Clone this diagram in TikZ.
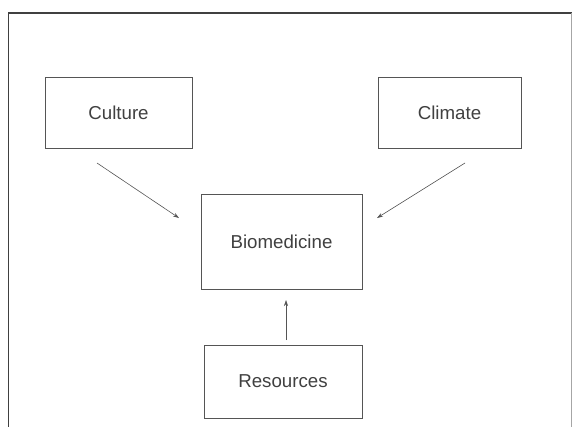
\documentclass[tikz,border=0pt]{standalone}
\usepackage{fontspec}
\setmainfont{Liberation Sans}
\usetikzlibrary{arrows,arrows.meta,positioning}
\definecolor{inkgrey}{HTML}{404040}
\definecolor{linegrey}{HTML}{555555}
\tikzset{factor/.style={rectangle,draw=linegrey,line width=0.6pt,text=inkgrey,
  font=\fontsize{18.7}{22}\selectfont,inner sep=0pt}}
\tikzset{link/.style={-{Stealth[length=6pt,width=4pt]},draw=linegrey,line width=0.6pt}}

\begin{document}
\begin{tikzpicture}[x=1pt,y=-1pt]
% \draw[help lines] (0,0) grid (573,426);
\useasboundingbox (0,0) rectangle (573,426);
\clip (0,0) rectangle (573,426);
\draw[draw=black!75,line width=1.8pt] (8.5,440) -- (8.5,13) -- (571.5,13);
\draw[draw=black!35,line width=0.6pt] (571.5,13) -- (571.5,440);
%
\node (culture) [factor,minimum width=147pt,minimum height=71pt] at (118.5,113) {Culture};
\node (climate) [factor,minimum width=143pt,minimum height=71pt] at (449.5,113) {Climate};
\node (bio) [factor,minimum width=161pt,minimum height=95pt] at (281.5,241.5) {Biomedicine};
\node (res) [factor,minimum width=158pt,minimum height=73pt] at (283,381.5) {Resources};
%
\coordinate (cultureout) at (97,163);
\coordinate (biowest) at (179,218);
\coordinate (climateout) at (465,163);
\coordinate (bioeast) at (377,218);
\coordinate (resout) at (286,340);
\coordinate (biosouth) at (286,300);
\draw[link] (cultureout) -- (biowest);
\draw[link] (climateout) -- (bioeast);
\draw[link] (resout) -- (biosouth);
\end{tikzpicture}
\end{document}
